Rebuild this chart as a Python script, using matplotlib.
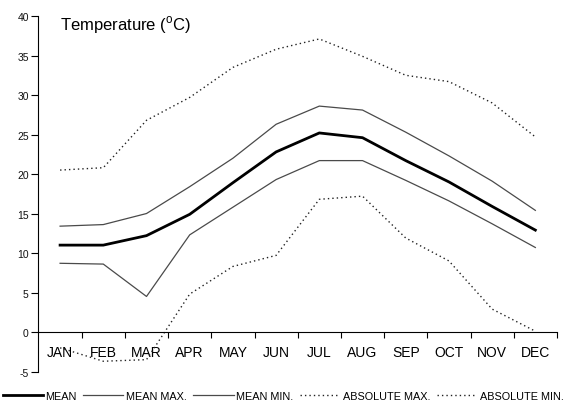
import matplotlib
matplotlib.use("Agg")
import matplotlib.pyplot as plt
import numpy as np
from matplotlib.ticker import FixedLocator

plt.rcParams['font.family'] = ['Liberation Sans', 'DejaVu Sans']
plt.rcParams['mathtext.fontset'] = 'custom'
plt.rcParams['mathtext.rm'] = 'Liberation Sans'

months = ['JAN', 'FEB', 'MAR', 'APR', 'MAY', 'JUN', 'JUL', 'AUG', 'SEP', 'OCT', 'NOV', 'DEC']
mean = [11.0, 11.0, 12.2, 14.9, 18.9, 22.8, 25.2, 24.6, 21.7, 19.0, 15.9, 12.9]
mean_max = [13.4, 13.6, 15.0, 18.4, 22.0, 26.3, 28.6, 28.1, 25.3, 22.3, 19.1, 15.4]
mean_min = [8.7, 8.6, 4.5, 12.3, 15.8, 19.3, 21.7, 21.7, 19.2, 16.6, 13.7, 10.7]
abs_max = [20.5, 20.8, 26.8, 29.7, 33.5, 35.8, 37.1, 34.9, 32.5, 31.7, 29.0, 24.7]
abs_min = [-2.0, -3.7, -3.5, 4.8, 8.3, 9.7, 16.8, 17.2, 11.9, 9.0, 2.9, 0.1]
yticks = [-5, 0, 5, 10, 15, 20, 25, 30, 35, 40]

fig = plt.figure(figsize=(5.66, 4.06), dpi=100)
ax = fig.add_axes([0.068, 0.0825, 0.916, 0.8755])

x = np.arange(len(months))
l1, = ax.plot(x, mean, color='black', lw=2.0, label='MEAN')
l2, = ax.plot(x, mean_max, color='#4a4a4a', lw=0.9, label='MEAN MAX.')
l3, = ax.plot(x, mean_min, color='#4a4a4a', lw=0.9, label='MEAN MIN.')
l4, = ax.plot(x, abs_max, color='#222222', lw=1.0, ls=(0, (1, 2.2)), label='ABSOLUTE MAX.')
l5, = ax.plot(x, abs_min, color='#222222', lw=1.0, ls=(0, (1, 2.2)), label='ABSOLUTE MIN.')

ax.set_xlim(-0.5, len(months) - 0.5)
ax.set_ylim(-5, 40)
ax.set_yticks(yticks)
ax.set_yticklabels([str(v) for v in yticks], fontsize=7.5, color='#111111')
ax.set_xticks(x)
ax.set_xticklabels(months, fontsize=6.9, color='#111111')
for lbl in ax.get_xticklabels():
    lbl.set_bbox(dict(facecolor='white', edgecolor='none', pad=0.3))
ax.xaxis.set_minor_locator(FixedLocator(np.arange(0.5, len(months), 1.0)))
ax.tick_params(axis='x', which='major', length=0, pad=9)
ax.tick_params(axis='x', which='minor', length=4, width=0.8, direction='out')
ax.tick_params(axis='y', length=5, width=0.8, direction='out', pad=2)

for s in ['top', 'right']:
    ax.spines[s].set_visible(False)
ax.spines['bottom'].set_position(('data', 0))
ax.spines['left'].set_linewidth(0.8)
ax.spines['bottom'].set_linewidth(0.8)

ax.text(0.0415, 0.978, 'Temperature ($^{\\mathregular{o}}$C)', transform=ax.transAxes,
        fontsize=12, va='center', ha='left', color='black')

fig.legend(handles=[l1, l2, l3, l4, l5], loc='center', bbox_to_anchor=(0.5, 0.022),
           ncol=5, frameon=False, fontsize=7.8, handlelength=3.7, handletextpad=0.25,
           columnspacing=0.6, borderpad=0, borderaxespad=0)

fig.savefig('out.png', dpi=100)
